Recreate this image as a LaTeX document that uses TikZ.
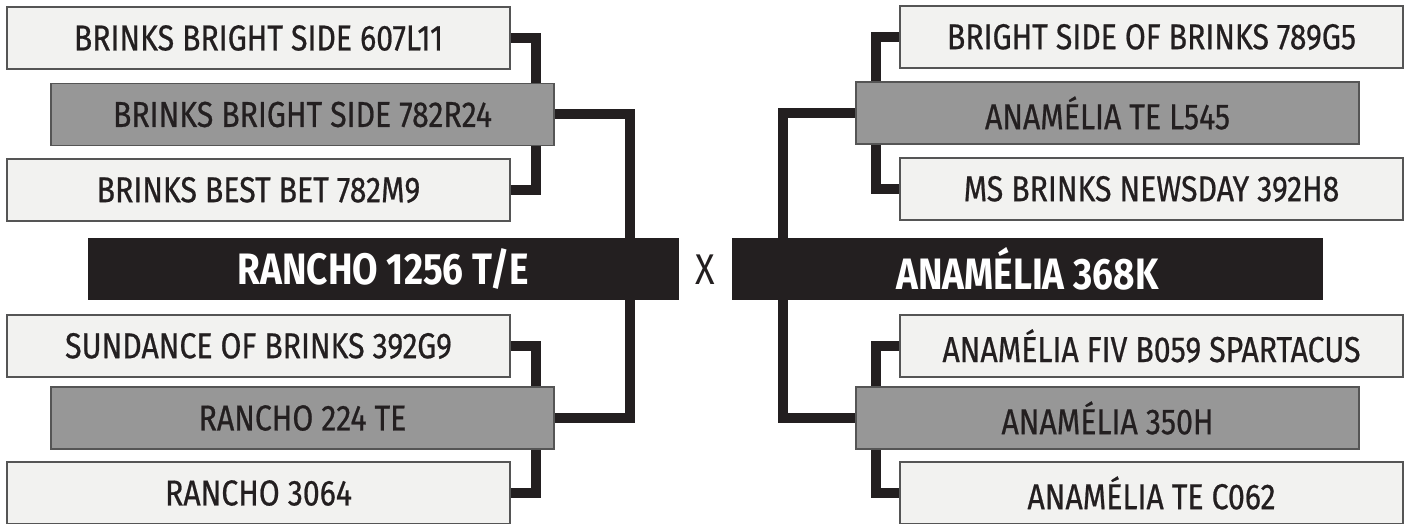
\documentclass[tikz,border=0pt]{standalone}
\usepackage{fontspec}
\setmainfont{Fira Sans}[FakeStretch=0.84]
\newfontfamily\boxfont{Fira Sans}[FakeStretch=0.84,FakeBold=0.6]
\usepackage{tikz}
\usetikzlibrary{backgrounds}
\definecolor{BKInk}{HTML}{231F20}
\definecolor{BKLight}{HTML}{F2F2F0}
\definecolor{BKGray}{HTML}{979797}
\definecolor{BKEdge}{HTML}{555555}

\begin{document}
\begin{tikzpicture}[x=1pt,y=-1pt,
  sire/.style={draw=BKEdge,line width=1.2pt,fill=BKLight,minimum width=503pt,minimum height=62pt,inner sep=0pt,text=BKInk,font=\boxfont\fontsize{36}{36}\selectfont},
  parent/.style={sire,fill=BKGray},
  bull/.style={fill=BKInk,minimum width=591pt,minimum height=62pt,inner sep=0pt,text=white,font=\fontsize{44}{44}\selectfont\bfseries},
  link/.style={draw=BKInk,line width=10pt}]
\path[use as bounding box] (0,0) rectangle (1410,524);
\node[sire] (l1) at (258.5,38) {BRINKS BRIGHT SIDE 607L11};
\node[parent] (l2) at (302.5,114.5) {BRINKS BRIGHT SIDE 782R24};
\node[sire] (l3) at (258.5,190) {BRINKS BEST BET 782M9};
\node[bull] (lb) at (383.5,269) {RANCHO 1256 T/E};
\node[sire] (l4) at (258.5,346) {SUNDANCE OF BRINKS 392G9};
\node[parent] (l5) at (302.5,418) {RANCHO 224 TE};
\node[sire] (l6) at (258.5,493) {RANCHO 3064};
\node[sire] (r1) at (1151.5,37) {BRIGHT SIDE OF BRINKS 789G5};
\node[parent] (r2) at (1107.5,113) {ANAMÉLIA TE L545};
\node[sire] (r3) at (1151.5,189) {MS BRINKS NEWSDAY 392H8};
\node[bull] (rb) at (1027.5,269) {ANAMÉLIA 368K};
\node[sire] (r4) at (1151.5,346) {ANAMÉLIA FIV B059 SPARTACUS};
\node[parent] (r5) at (1107.5,418) {ANAMÉLIA 350H};
\node[sire] (r6) at (1151.5,493) {ANAMÉLIA TE C062};
\node[text=BKInk,font=\fontsize{43}{43}\selectfont] (vs) at (705.5,270) {X};
\coordinate (lj) at (536,0);
\coordinate (lk) at (630,0);
\coordinate (rj) at (876,0);
\coordinate (rk) at (783,0);
\begin{scope}[on background layer]
\draw[link] (l1.east) -| (lj |- l2.north);
\draw[link] (l3.east) -| (lj |- l2.south);
\draw[link] (l2.east) -| (lk |- lb.north);
\draw[link] (l4.east) -| (lj |- l5.north);
\draw[link] (l6.east) -| (lj |- l5.south);
\draw[link] (l5.east) -| (lk |- lb.south);
\draw[link] (r1.west) -| (rj |- r2.north);
\draw[link] (r3.west) -| (rj |- r2.south);
\draw[link] (r2.west) -| (rk |- rb.north);
\draw[link] (r4.west) -| (rj |- r5.north);
\draw[link] (r6.west) -| (rj |- r5.south);
\draw[link] (r5.west) -| (rk |- rb.south);
\end{scope}
\end{tikzpicture}
\end{document}
